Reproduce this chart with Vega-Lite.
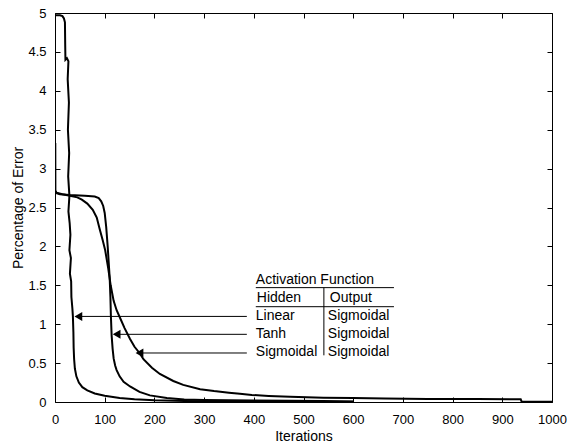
{
  "$schema": "https://vega.github.io/schema/vega-lite/v6.json",
  "width": 497,
  "height": 389,
  "autosize": "none",
  "padding": {"left": 55, "top": 13, "right": 15, "bottom": 43},
  "background": "white",
  "config": {
    "view": {"stroke": "black", "strokeWidth": 1},
    "font": "Liberation Sans",
    "axis": {
      "labelFont": "Liberation Sans", "titleFont": "Liberation Sans",
      "labelFontSize": 13, "titleFontSize": 14, "titleFontWeight": "normal",
      "labelColor": "black", "titleColor": "black", "tickColor": "black", "tickWidth": 1,
      "grid": false, "domain": false, "labelFlush": false, "labelOverlap": false, "labelBound": false
    }
  },
  "datasets": {
    "curves": [
      {"s": "Linear", "i": 0, "x": 0, "y": 4.97},
      {"s": "Linear", "i": 1, "x": 10, "y": 4.97},
      {"s": "Linear", "i": 2, "x": 15, "y": 4.96},
      {"s": "Linear", "i": 3, "x": 18, "y": 4.93},
      {"s": "Linear", "i": 4, "x": 20, "y": 4.88},
      {"s": "Linear", "i": 5, "x": 20.5, "y": 4.6},
      {"s": "Linear", "i": 6, "x": 21, "y": 4.4},
      {"s": "Linear", "i": 7, "x": 24, "y": 4.42},
      {"s": "Linear", "i": 8, "x": 27, "y": 4.38},
      {"s": "Linear", "i": 9, "x": 25.5, "y": 4.15},
      {"s": "Linear", "i": 10, "x": 28, "y": 3.85},
      {"s": "Linear", "i": 11, "x": 26, "y": 3.5},
      {"s": "Linear", "i": 12, "x": 28.5, "y": 3.2},
      {"s": "Linear", "i": 13, "x": 26.5, "y": 2.9},
      {"s": "Linear", "i": 14, "x": 29, "y": 2.65},
      {"s": "Linear", "i": 15, "x": 27, "y": 2.45},
      {"s": "Linear", "i": 16, "x": 29.5, "y": 2.3},
      {"s": "Linear", "i": 17, "x": 31, "y": 2.15},
      {"s": "Linear", "i": 18, "x": 29, "y": 1.95},
      {"s": "Linear", "i": 19, "x": 32, "y": 1.85},
      {"s": "Linear", "i": 20, "x": 30, "y": 1.65},
      {"s": "Linear", "i": 21, "x": 32.5, "y": 1.55},
      {"s": "Linear", "i": 22, "x": 33, "y": 1.35},
      {"s": "Linear", "i": 23, "x": 35, "y": 1.2},
      {"s": "Linear", "i": 24, "x": 36, "y": 1.1},
      {"s": "Linear", "i": 25, "x": 37, "y": 0.9},
      {"s": "Linear", "i": 26, "x": 37.5, "y": 0.7},
      {"s": "Linear", "i": 27, "x": 38.5, "y": 0.55},
      {"s": "Linear", "i": 28, "x": 40, "y": 0.43},
      {"s": "Linear", "i": 29, "x": 43, "y": 0.33},
      {"s": "Linear", "i": 30, "x": 48, "y": 0.25},
      {"s": "Linear", "i": 31, "x": 55, "y": 0.19},
      {"s": "Linear", "i": 32, "x": 65, "y": 0.15},
      {"s": "Linear", "i": 33, "x": 80, "y": 0.11},
      {"s": "Linear", "i": 34, "x": 100, "y": 0.08},
      {"s": "Linear", "i": 35, "x": 130, "y": 0.05},
      {"s": "Linear", "i": 36, "x": 160, "y": 0.035},
      {"s": "Linear", "i": 37, "x": 200, "y": 0.022},
      {"s": "Linear", "i": 38, "x": 260, "y": 0.013},
      {"s": "Linear", "i": 39, "x": 350, "y": 0.007},
      {"s": "Linear", "i": 40, "x": 450, "y": 0.004},
      {"s": "Linear", "i": 41, "x": 600, "y": 0.002},
      {"s": "Tanh", "i": 0, "x": 0, "y": 2.69},
      {"s": "Tanh", "i": 1, "x": 10, "y": 2.67},
      {"s": "Tanh", "i": 2, "x": 30, "y": 2.66},
      {"s": "Tanh", "i": 3, "x": 60, "y": 2.65},
      {"s": "Tanh", "i": 4, "x": 80, "y": 2.64},
      {"s": "Tanh", "i": 5, "x": 88, "y": 2.62},
      {"s": "Tanh", "i": 6, "x": 93, "y": 2.58},
      {"s": "Tanh", "i": 7, "x": 97, "y": 2.52},
      {"s": "Tanh", "i": 8, "x": 100, "y": 2.43},
      {"s": "Tanh", "i": 9, "x": 103, "y": 2.25},
      {"s": "Tanh", "i": 10, "x": 106, "y": 2.0},
      {"s": "Tanh", "i": 11, "x": 108, "y": 1.8},
      {"s": "Tanh", "i": 12, "x": 110, "y": 1.6},
      {"s": "Tanh", "i": 13, "x": 111.5, "y": 1.35},
      {"s": "Tanh", "i": 14, "x": 112.5, "y": 1.1},
      {"s": "Tanh", "i": 15, "x": 114, "y": 0.85},
      {"s": "Tanh", "i": 16, "x": 116, "y": 0.68},
      {"s": "Tanh", "i": 17, "x": 118, "y": 0.56},
      {"s": "Tanh", "i": 18, "x": 121, "y": 0.47},
      {"s": "Tanh", "i": 19, "x": 124, "y": 0.41},
      {"s": "Tanh", "i": 20, "x": 130, "y": 0.33},
      {"s": "Tanh", "i": 21, "x": 138, "y": 0.26},
      {"s": "Tanh", "i": 22, "x": 151, "y": 0.2},
      {"s": "Tanh", "i": 23, "x": 170, "y": 0.13},
      {"s": "Tanh", "i": 24, "x": 191, "y": 0.085},
      {"s": "Tanh", "i": 25, "x": 225, "y": 0.05},
      {"s": "Tanh", "i": 26, "x": 260, "y": 0.032},
      {"s": "Tanh", "i": 27, "x": 300, "y": 0.025},
      {"s": "Tanh", "i": 28, "x": 400, "y": 0.018},
      {"s": "Tanh", "i": 29, "x": 540, "y": 0.012},
      {"s": "Tanh", "i": 30, "x": 600, "y": 0.006},
      {"s": "Sigmoidal", "i": 0, "x": 0.6, "y": 3.33},
      {"s": "Sigmoidal", "i": 1, "x": 0.8, "y": 2.72},
      {"s": "Sigmoidal", "i": 2, "x": 3, "y": 2.69},
      {"s": "Sigmoidal", "i": 3, "x": 15, "y": 2.67},
      {"s": "Sigmoidal", "i": 4, "x": 30, "y": 2.65},
      {"s": "Sigmoidal", "i": 5, "x": 45, "y": 2.63},
      {"s": "Sigmoidal", "i": 6, "x": 54, "y": 2.6},
      {"s": "Sigmoidal", "i": 7, "x": 65, "y": 2.55},
      {"s": "Sigmoidal", "i": 8, "x": 76, "y": 2.47},
      {"s": "Sigmoidal", "i": 9, "x": 84, "y": 2.37},
      {"s": "Sigmoidal", "i": 10, "x": 90, "y": 2.22},
      {"s": "Sigmoidal", "i": 11, "x": 96, "y": 2.08},
      {"s": "Sigmoidal", "i": 12, "x": 101, "y": 1.95},
      {"s": "Sigmoidal", "i": 13, "x": 107, "y": 1.72},
      {"s": "Sigmoidal", "i": 14, "x": 112, "y": 1.5},
      {"s": "Sigmoidal", "i": 15, "x": 118, "y": 1.3},
      {"s": "Sigmoidal", "i": 16, "x": 124, "y": 1.18},
      {"s": "Sigmoidal", "i": 17, "x": 131, "y": 1.08},
      {"s": "Sigmoidal", "i": 18, "x": 140, "y": 0.95},
      {"s": "Sigmoidal", "i": 19, "x": 151, "y": 0.81},
      {"s": "Sigmoidal", "i": 20, "x": 160, "y": 0.71},
      {"s": "Sigmoidal", "i": 21, "x": 170, "y": 0.63},
      {"s": "Sigmoidal", "i": 22, "x": 178, "y": 0.55},
      {"s": "Sigmoidal", "i": 23, "x": 195, "y": 0.44},
      {"s": "Sigmoidal", "i": 24, "x": 211, "y": 0.36},
      {"s": "Sigmoidal", "i": 25, "x": 238, "y": 0.27},
      {"s": "Sigmoidal", "i": 26, "x": 258, "y": 0.22},
      {"s": "Sigmoidal", "i": 27, "x": 292, "y": 0.165},
      {"s": "Sigmoidal", "i": 28, "x": 320, "y": 0.14},
      {"s": "Sigmoidal", "i": 29, "x": 350, "y": 0.12},
      {"s": "Sigmoidal", "i": 30, "x": 372, "y": 0.105},
      {"s": "Sigmoidal", "i": 31, "x": 396, "y": 0.09},
      {"s": "Sigmoidal", "i": 32, "x": 430, "y": 0.078},
      {"s": "Sigmoidal", "i": 33, "x": 473, "y": 0.066},
      {"s": "Sigmoidal", "i": 34, "x": 540, "y": 0.055},
      {"s": "Sigmoidal", "i": 35, "x": 600, "y": 0.05},
      {"s": "Sigmoidal", "i": 36, "x": 664, "y": 0.045},
      {"s": "Sigmoidal", "i": 37, "x": 750, "y": 0.04},
      {"s": "Sigmoidal", "i": 38, "x": 850, "y": 0.037},
      {"s": "Sigmoidal", "i": 39, "x": 937, "y": 0.035},
      {"s": "Sigmoidal", "i": 40, "x": 939, "y": 0.004},
      {"s": "Sigmoidal", "i": 41, "x": 1000, "y": 0.004}
    ],
    "rules": [
      {"x": 404, "x2": 682, "y": 1.47, "y2": 1.47},
      {"x": 404, "x2": 682, "y": 1.225, "y2": 1.225},
      {"x": 541, "x2": 541, "y": 1.47, "y2": 0.6},
      {"x": 46, "x2": 386, "y": 1.1, "y2": 1.1},
      {"x": 123, "x2": 386, "y": 0.87, "y2": 0.87},
      {"x": 169, "x2": 386, "y": 0.63, "y2": 0.63}
    ],
    "heads": [
      {"x": 47, "y": 1.1},
      {"x": 124, "y": 0.87},
      {"x": 170, "y": 0.63}
    ],
    "labels": [
      {"x": 404, "y": 1.57, "t": "Activation Function"},
      {"x": 406, "y": 1.343, "t": "Hidden"},
      {"x": 553, "y": 1.343, "t": "Output"},
      {"x": 404, "y": 1.11, "t": "Linear"},
      {"x": 404, "y": 0.87, "t": "Tanh"},
      {"x": 404, "y": 0.645, "t": "Sigmoidal"},
      {"x": 549, "y": 1.11, "t": "Sigmoidal"},
      {"x": 549, "y": 0.87, "t": "Sigmoidal"},
      {"x": 549, "y": 0.645, "t": "Sigmoidal"}
    ]
  },
  "layer": [
    {
      "data": {"name": "curves"},
      "mark": {"type": "line", "color": "black", "strokeWidth": 2, "clip": true},
      "encoding": {
        "x": {"field": "x", "type": "quantitative", "scale": {"domain": [0, 1000], "nice": false},
          "axis": {"orient": "bottom", "values": [0,100,200,300,400,500,600,700,800,900,1000], "format": "d", "tickSize": -5, "labelPadding": 16, "title": "Iterations", "titlePadding": 3}},
        "y": {"field": "y", "type": "quantitative", "scale": {"domain": [0, 5], "nice": false},
          "axis": {"orient": "left", "values": [0,0.5,1,1.5,2,2.5,3,3.5,4,4.5,5], "format": "~g", "tickSize": -5, "labelPadding": 14, "title": "Percentage of Error", "titlePadding": 2}},
        "detail": {"field": "s", "type": "nominal"},
        "order": {"field": "i", "type": "quantitative"}
      }
    },
    {
      "data": {"name": "curves"},
      "mark": {"type": "line", "opacity": 0},
      "encoding": {
        "x": {"field": "x", "type": "quantitative", "scale": {"domain": [0, 1000], "nice": false},
          "axis": {"orient": "top", "values": [0,100,200,300,400,500,600,700,800,900,1000], "tickSize": -5, "labels": false, "title": null}},
        "y": {"field": "y", "type": "quantitative", "scale": {"domain": [0, 5], "nice": false},
          "axis": {"orient": "right", "values": [0,0.5,1,1.5,2,2.5,3,3.5,4,4.5,5], "tickSize": -5, "labels": false, "title": null}},
        "detail": {"field": "s", "type": "nominal"},
        "order": {"field": "i", "type": "quantitative"}
      }
    },
    {
      "data": {"name": "rules"},
      "mark": {"type": "rule", "color": "black", "strokeWidth": 1},
      "encoding": {
        "x": {"field": "x", "type": "quantitative", "scale": {"domain": [0, 1000], "nice": false}, "axis": null},
        "x2": {"field": "x2"},
        "y": {"field": "y", "type": "quantitative", "scale": {"domain": [0, 5], "nice": false}, "axis": null},
        "y2": {"field": "y2"}
      }
    },
    {
      "data": {"name": "heads"},
      "mark": {"type": "point", "shape": "triangle-left", "filled": true, "color": "black", "opacity": 1, "size": 80},
      "encoding": {
        "x": {"field": "x", "type": "quantitative", "scale": {"domain": [0, 1000], "nice": false}, "axis": null},
        "y": {"field": "y", "type": "quantitative", "scale": {"domain": [0, 5], "nice": false}, "axis": null}
      }
    },
    {
      "data": {"name": "labels"},
      "mark": {"type": "text", "align": "left", "baseline": "middle", "fontSize": 14, "font": "Liberation Sans", "color": "black"},
      "encoding": {
        "x": {"field": "x", "type": "quantitative", "scale": {"domain": [0, 1000], "nice": false}, "axis": null},
        "y": {"field": "y", "type": "quantitative", "scale": {"domain": [0, 5], "nice": false}, "axis": null},
        "text": {"field": "t", "type": "nominal"}
      }
    }
  ]
}
